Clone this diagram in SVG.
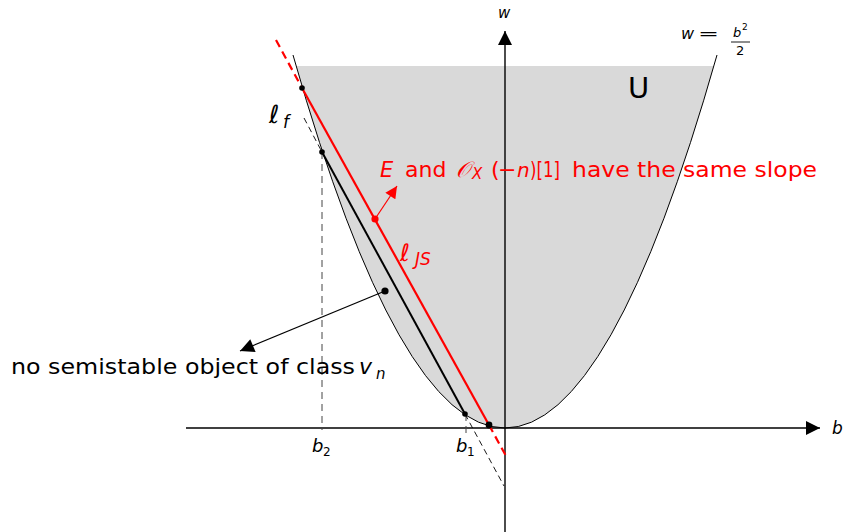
<svg xmlns="http://www.w3.org/2000/svg" width="847" height="532" viewBox="0 0 847 532">
<style>
text{font-family:"DejaVu Sans","Liberation Sans",sans-serif}
.it{font-style:italic}
.red{fill:#ff0000}
.axis{stroke:#000;stroke-width:1.4;fill:none}
.thin{stroke:#000;stroke-width:1;fill:none}
.dash{stroke:#000;stroke-width:0.9;stroke-dasharray:6,4;fill:none}
.gdash{stroke:#444;stroke-width:1;stroke-dasharray:7,5;fill:none}
.chord{stroke:#000;stroke-width:2;fill:none}
.rline{stroke:#ff0000;stroke-width:2.2;fill:none}
.rdash{stroke:#ff0000;stroke-width:2.2;stroke-dasharray:8,5;fill:none}
</style>
<defs>
<marker id="ah" viewBox="0 0 10 10" refX="10" refY="5" markerWidth="15" markerHeight="14" markerUnits="userSpaceOnUse" orient="auto"><path d="M0,0 L10,5 L0,10 z" fill="#000"/></marker>
<marker id="ahb" viewBox="0 0 10 10" refX="10" refY="5" markerWidth="17" markerHeight="14" markerUnits="userSpaceOnUse" orient="auto"><path d="M0,0 L10,5 L0,10 z" fill="#000"/></marker>
<marker id="ahr" viewBox="0 0 10 10" refX="10" refY="5" markerWidth="13" markerHeight="12" markerUnits="userSpaceOnUse" orient="auto"><path d="M0,0 L10,5 L0,10 z" fill="#ff0000"/></marker>
</defs>

<g id="region-U">
<path d="M296.2,66 Q505,790 713.8,66 Z" fill="#d9d9d9"/>
<path class="thin" d="M293,55 Q505,801 717,55"/>
<text x="628" y="98" font-size="29">U</text>
</g>

<g id="axes">
<line class="axis" x1="186" y1="428" x2="820" y2="428" marker-end="url(#ah)"/>
<line class="axis" x1="505" y1="532" x2="505" y2="31" marker-end="url(#ah)"/>
<text x="498" y="18" font-size="15" class="it">w</text>
<text x="832" y="434" font-size="17" class="it">b</text>
</g>

<g id="parabola-label">
<text x="681" y="39" font-size="16" class="it">w</text>
<text x="698" y="39" font-size="16" textLength="21" lengthAdjust="spacingAndGlyphs">=</text>
<text x="733" y="37" font-size="13" class="it">b</text>
<text x="742" y="30" font-size="9">2</text>
<line x1="731" y1="42" x2="750" y2="42" stroke="#000" stroke-width="0.9"/>
<text x="736" y="55" font-size="13">2</text>
</g>

<g id="connectors">
<line class="gdash" x1="322" y1="152" x2="322" y2="430"/>
<line class="gdash" x1="466" y1="414" x2="466" y2="436"/>
<line class="dash" x1="304" y1="118" x2="322" y2="152"/>
<line class="chord" x1="322" y1="152" x2="465" y2="414"/>
<line class="dash" x1="465" y1="414" x2="504" y2="486"/>
<line class="rdash" x1="276" y1="40" x2="302" y2="88"/>
<line class="rline" x1="302" y1="88" x2="489" y2="425"/>
<line class="rdash" x1="489" y1="425" x2="506" y2="456"/>
<line stroke="#ff0000" stroke-width="1.2" x1="375" y1="219" x2="397" y2="186" marker-end="url(#ahr)"/>
<line stroke="#000" stroke-width="1.2" x1="385" y1="291" x2="240" y2="351" marker-end="url(#ahb)"/>
</g>

<g id="points">
<circle cx="302" cy="88" r="2.8" fill="#000"/>
<circle cx="322" cy="152" r="2.8" fill="#000"/>
<circle cx="465" cy="414" r="2.8" fill="#000"/>
<circle cx="385" cy="291" r="3.6" fill="#000"/>
<circle cx="375" cy="219" r="3.6" fill="#ff0000"/>
<circle cx="489" cy="425" r="3.4" fill="#000"/>
</g>

<g id="line-labels">
<text x="269" y="123" font-size="25">ℓ</text>
<text x="283" y="128" font-size="17" class="it">f</text>
<text x="400" y="261" font-size="24" class="red">ℓ</text>
<text x="415" y="265" font-size="17" class="it red">JS</text>
<text x="312" y="452" font-size="18" class="it">b</text>
<text x="323" y="456" font-size="12">2</text>
<text x="456" y="452" font-size="18" class="it">b</text>
<text x="467" y="456" font-size="12">1</text>
</g>

<g id="slope-label">
<text x="380" y="177" font-size="21" class="it red">E</text>
<text x="405" y="177" font-size="22" class="red">and</text>
<text x="456" y="177" font-size="22" class="red" font-family="'Liberation Serif',serif" font-style="italic">𝒪</text>
<text x="472" y="179" font-size="15" class="it red">X</text>
<text x="491" y="177" font-size="22" class="red">(</text>
<text x="498" y="177" font-size="22" class="red">−</text>
<text x="517" y="177" font-size="20" class="it red" font-family="'Liberation Serif',serif">n</text>
<text x="530" y="177" font-size="22" class="red" textLength="30" lengthAdjust="spacingAndGlyphs">)[1]</text>
<text x="572" y="177" font-size="22" class="red" textLength="245" lengthAdjust="spacingAndGlyphs">have the same slope</text>
</g>

<g id="empty-label">
<text x="11" y="374" font-size="22" textLength="344" lengthAdjust="spacingAndGlyphs">no semistable object of class</text>
<text x="359" y="374" font-size="22" class="it">v</text>
<text x="376" y="379" font-size="15" class="it">n</text>
</g>
</svg>
